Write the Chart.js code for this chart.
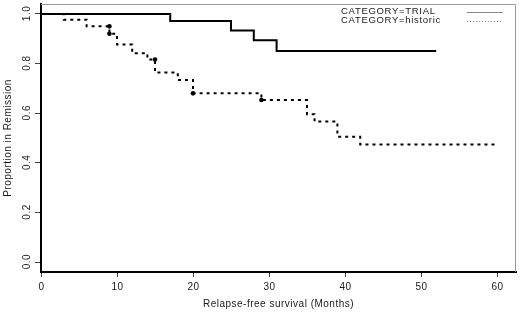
<!DOCTYPE html>
<html>
<head>
<meta charset="utf-8">
<script src="https://cdn.jsdelivr.net/npm/chart.js@4/dist/chart.umd.min.js"></script>
<style>
  html, body { margin: 0; padding: 0; background: #fff; }
</style>
</head>
<body>
<canvas id="km" width="520" height="313"></canvas>
<script>
// Kaplan-Meier step points (months, proportion)
const trialMonths = [0, 17, 25, 28, 31, 52];
const trialSurv = [1, 0.971, 0.933, 0.894, 0.851, 0.851];

const historicMonths = [0, 3, 6, 9, 10, 12, 14, 15, 18, 20, 29, 35, 36, 39, 42, 60];
const historicSurv = [1, 0.977, 0.950, 0.920, 0.877, 0.842, 0.816, 0.764, 0.734, 0.680, 0.653, 0.596, 0.566, 0.505, 0.474, 0.474];

// censor marks on the historic curve
const censorMonths = [9, 9, 15, 20, 29];
const censorSurv = [0.950, 0.920, 0.816, 0.680, 0.653];

const xTicks = [0, 10, 20, 30, 40, 50, 60];
const yTicks = [0, 0.2, 0.4, 0.6, 0.8, 1.0];
const legendLabels = ['CATEGORY=TRIAL', 'CATEGORY=historic'];
const xTitle = 'Relapse-free survival (Months)';
const yTitle = 'Proportion in Remission';

const FONT = '"Liberation Sans", Arial, sans-serif';
const TEXT = '#1a1a1a';

function pts(xs, ys) {
  return xs.map((x, i) => ({ x: x, y: ys[i] }));
}

// R style text, box and legend
const rStyle = {
  id: 'rStyle',
  afterDraw(chart) {
    const ctx = chart.ctx;
    const a = chart.chartArea;
    const xs = chart.scales.x, ys = chart.scales.y;
    ctx.save();
    // thin grey top/right of the box
    ctx.strokeStyle = '#999';
    ctx.lineWidth = 1;
    ctx.beginPath();
    ctx.moveTo(a.left, a.top + 0.5);
    ctx.lineTo(a.right - 0.5, a.top + 0.5);
    ctx.lineTo(a.right - 0.5, a.bottom);
    ctx.stroke();

    ctx.fillStyle = TEXT;
    ctx.font = '10px ' + FONT;
    ctx.letterSpacing = '0.5px';
    ctx.textBaseline = 'middle';
    ctx.textAlign = 'center';
    xTicks.forEach(v => {
      ctx.fillText(String(v), xs.getPixelForValue(v) + 0.5, 287.5);
    });
    yTicks.forEach(v => {
      ctx.save();
      ctx.translate(27, ys.getPixelForValue(v));
      ctx.rotate(-Math.PI / 2);
      ctx.fillText(v.toFixed(1), 0.5, 0);
      ctx.restore();
    });
    ctx.fillText(xTitle, (a.left + a.right) / 2, 304);
    ctx.save();
    ctx.translate(8, (a.top + a.bottom) / 2);
    ctx.rotate(-Math.PI / 2);
    ctx.fillText(yTitle, 0, 0);
    ctx.restore();

    // legend
    ctx.font = '9.5px ' + FONT;
    ctx.letterSpacing = '0.7px';
    ctx.textAlign = 'left';
    ctx.fillText(legendLabels[0], 341, 11.5);
    ctx.fillText(legendLabels[1], 341, 20.5);
    ctx.strokeStyle = '#888';
    ctx.beginPath();
    ctx.moveTo(467, 12.5);
    ctx.lineTo(503, 12.5);
    ctx.stroke();
    ctx.setLineDash([1, 2]);
    ctx.beginPath();
    ctx.moveTo(467, 21.5);
    ctx.lineTo(503, 21.5);
    ctx.stroke();
    ctx.restore();
  }
};

new Chart(document.getElementById('km'), {
  type: 'line',
  data: {
    datasets: [
      {
        label: legendLabels[0],
        data: pts(trialMonths, trialSurv),
        borderColor: '#000',
        borderWidth: 2,
        stepped: 'before',
        pointRadius: 0,
        fill: false
      },
      {
        label: legendLabels[1],
        data: pts(historicMonths, historicSurv),
        borderColor: '#000',
        borderWidth: 2,
        borderDash: [3, 4],
        borderCapStyle: 'butt',
        stepped: 'before',
        pointRadius: 0,
        fill: false
      },
      {
        label: 'censored',
        data: pts(censorMonths, censorSurv),
        showLine: false,
        pointRadius: 2.3,
        pointBackgroundColor: '#000',
        pointBorderWidth: 0
      }
    ]
  },
  options: {
    responsive: false,
    animation: false,
    devicePixelRatio: 1,
    layout: { padding: { left: 0, top: 4, right: 3, bottom: 0 } },
    plugins: {
      legend: { display: false },
      tooltip: { enabled: false }
    },
    scales: {
      x: {
        type: 'linear',
        min: 0,
        max: 62.5,
        afterBuildTicks: s => { s.ticks = xTicks.map(v => ({ value: v })); },
        afterFit: s => { s.height = 41; },
        ticks: { display: false },
        grid: { display: true, drawOnChartArea: false, drawTicks: true, tickLength: 5, color: '#444', lineWidth: 1 },
        border: { display: true, color: '#000', width: 2 }
      },
      y: {
        type: 'linear',
        min: -0.04,
        max: 1.04,
        afterBuildTicks: s => { s.ticks = yTicks.map(v => ({ value: v })); },
        afterFit: s => { s.width = 41; },
        ticks: { display: false },
        grid: { display: true, drawOnChartArea: false, drawTicks: true, tickLength: 6, color: '#444', lineWidth: 1 },
        border: { display: true, color: '#000', width: 2 }
      }
    }
  },
  plugins: [rStyle]
});
</script>
</body>
</html>
